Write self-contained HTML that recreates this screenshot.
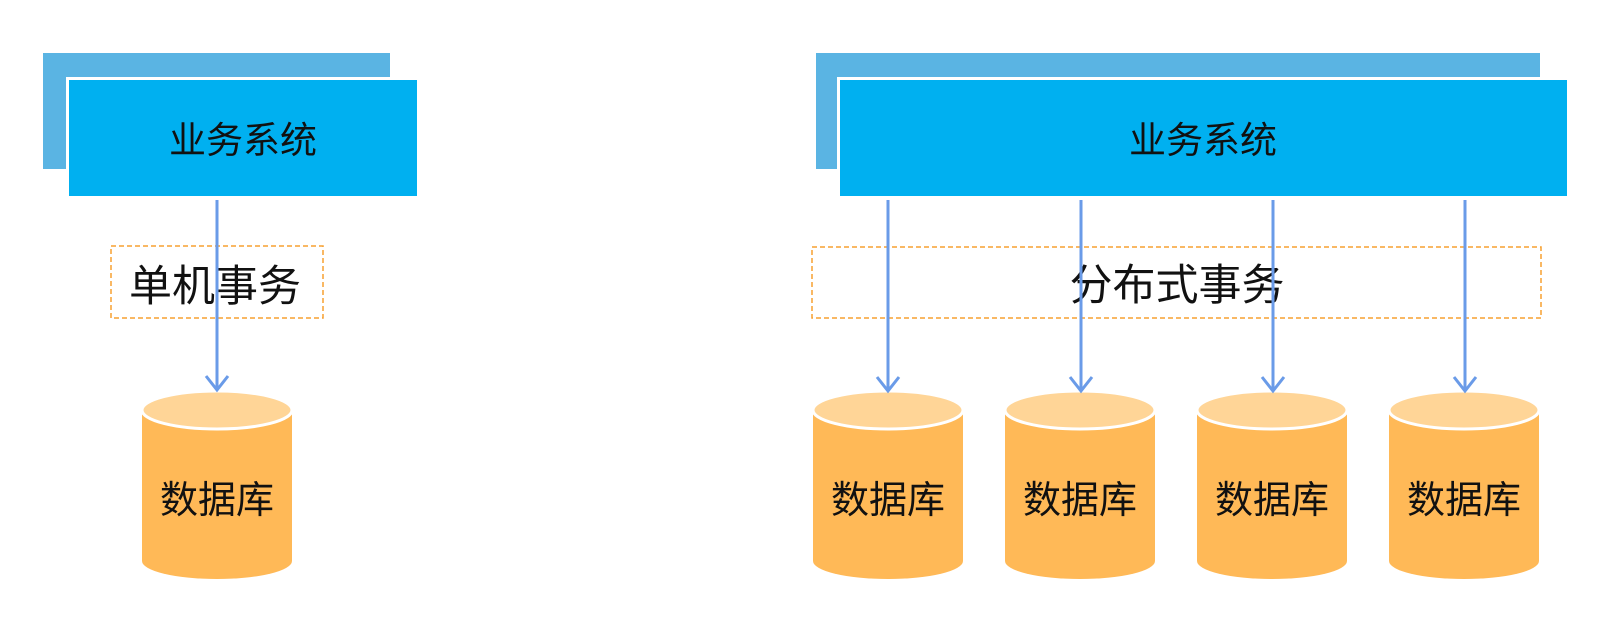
<!DOCTYPE html>
<html><head><meta charset="utf-8"><style>
html,body{margin:0;padding:0;background:#fff;width:1624px;height:620px;overflow:hidden}
text{font-family:"Liberation Sans","Noto Sans CJK SC",sans-serif;fill:#111}
</style></head><body>
<svg width="1624" height="620" viewBox="0 0 1624 620" xmlns="http://www.w3.org/2000/svg">
<defs>
<g id="cyl">
<path d="M0,410 L0,561 A75,18 0 0 0 150,561 L150,410 Z" fill="#ffb957"/>
<ellipse cx="75" cy="410" rx="75" ry="19" fill="#ffd597" stroke="#fff" stroke-width="3"/>
</g>
</defs>
<!-- left -->
<rect x="43" y="53" width="347" height="116" fill="#5ab4e3"/>
<rect x="66" y="77" width="354" height="122" fill="#fff"/>
<rect x="69" y="80" width="348" height="116" fill="#00b0f0"/>
<text x="243" y="153" font-size="37" text-anchor="middle">业务系统</text>
<rect x="111" y="246" width="212" height="72" fill="none" stroke="#f7a030" stroke-width="1.5" stroke-dasharray="5,3"/>
<text x="215" y="301" font-size="43" text-anchor="middle">单机事务</text>
<use href="#cyl" x="142"/>
<text x="217" y="513" font-size="38" text-anchor="middle">数据库</text>
<g stroke="#6a9be8" stroke-width="3" fill="none">
<line x1="217" y1="200" x2="217" y2="390"/>
<polyline points="206,376 217,390 228,376"/>
</g>
<!-- right -->
<rect x="816" y="53" width="724" height="116" fill="#5ab4e3"/>
<rect x="837" y="77" width="733" height="122" fill="#fff"/>
<rect x="840" y="80" width="727" height="116" fill="#00b0f0"/>
<text x="1203" y="153" font-size="37" text-anchor="middle">业务系统</text>
<rect x="812" y="247" width="729" height="71" fill="none" stroke="#f7a030" stroke-width="1.5" stroke-dasharray="5,3"/>
<text x="1177" y="300" font-size="43" text-anchor="middle">分布式事务</text>
<use href="#cyl" x="813"/>
<use href="#cyl" x="1005"/>
<use href="#cyl" x="1197"/>
<use href="#cyl" x="1389"/>
<text x="888" y="513" font-size="38" text-anchor="middle">数据库</text>
<text x="1080" y="513" font-size="38" text-anchor="middle">数据库</text>
<text x="1272" y="513" font-size="38" text-anchor="middle">数据库</text>
<text x="1464" y="513" font-size="38" text-anchor="middle">数据库</text>
<g stroke="#6a9be8" stroke-width="3" fill="none">
<line x1="888" y1="200" x2="888" y2="391"/><polyline points="877,377 888,391 899,377"/>
<line x1="1081" y1="200" x2="1081" y2="391"/><polyline points="1070,377 1081,391 1092,377"/>
<line x1="1273" y1="200" x2="1273" y2="391"/><polyline points="1262,377 1273,391 1284,377"/>
<line x1="1465" y1="200" x2="1465" y2="391"/><polyline points="1454,377 1465,391 1476,377"/>
</g>
</svg>
</body></html>
